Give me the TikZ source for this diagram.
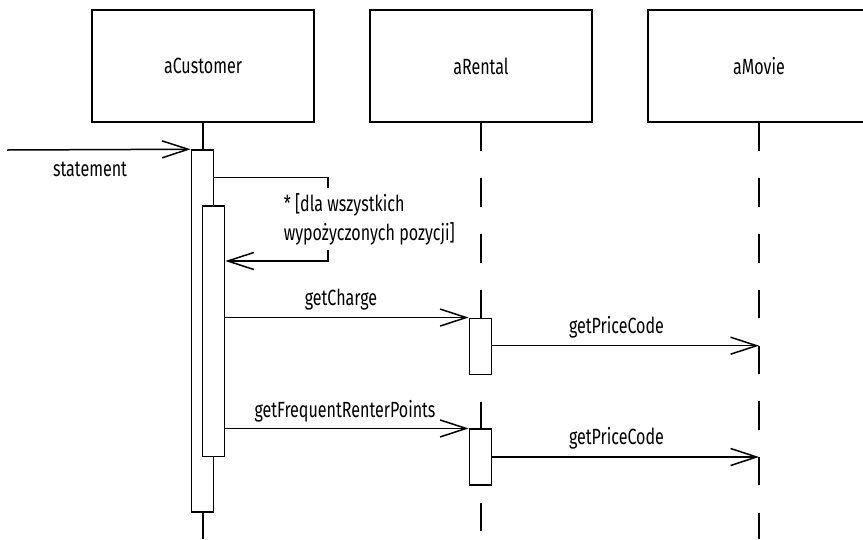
\documentclass[tikz,border=0pt]{standalone}
\usepackage{fontspec}
\setmainfont[FakeStretch=0.73]{Fira Sans}
\usetikzlibrary{arrows.meta}

\begin{document}
\begin{tikzpicture}[x=1pt,y=-1pt,
  line width=1.5pt,
  every node/.style={font=\fontsize{22}{29}\selectfont},
  objbox/.style={draw, rectangle, minimum width=222pt, minimum height=112pt, inner sep=0pt},
  actbar/.style={draw, fill=white, rectangle, minimum width=22pt, inner sep=0pt},
  msg/.style={-{Straight Barb[length=26pt,width=17pt]}},
  lifeline/.style={dash pattern=on 28.5pt off 27.2pt},
  lbl/.style={inner sep=0pt}
]
\useasboundingbox (0,0) rectangle (863,539);
\clip (0,0) rectangle (863,539);

% object boxes
\node[objbox] (cust)  at (203,66) {aCustomer};
\node[objbox] (rent)  at (481,66) {aRental};
\node[objbox] (movie) at (759,66) {aMovie};

% bottom ends of the lifelines
\coordinate (custend)  at (203,539);
\coordinate (rentend)  at (481,539);
\coordinate (movieend) at (759,539);

% activation bars
\node[actbar, minimum height=362pt] (cout) at (202.3,331) {};
\node[actbar, minimum height=250.7pt] (cin) at (213.6,331.35) {};
\node[actbar, minimum height=56pt] (r1) at (480.3,346.3) {};
\node[actbar, minimum height=56pt] (r2) at (480.3,457.2) {};

% lifelines
\draw (cust.south) -- (cout.north -| cust.south);
\draw (cout.south -| cust.south) -- (custend);
\draw[lifeline] (rent.south) -- (r1.north -| rent.south);
\draw[lifeline, dash phase=28.5pt] (r1.south -| rent.south) -- (r2.north -| rent.south);
\draw[lifeline, dash phase=38.7pt] (r2.south -| rent.south) -- (rentend);
\draw[lifeline] (movie.south) -- (movieend);

% redraw bars above the lifelines
\node[actbar, minimum height=362pt] at (cout) {};
\node[actbar, minimum height=250.7pt] at (cin) {};
\node[actbar, minimum height=56pt] at (r1) {};
\node[actbar, minimum height=56pt] at (r2) {};

% incoming call
\coordinate (start) at (7,150);
\draw[msg] (start) -- (cout.north west);
\node[lbl] (lstatement) at (90,169) {statement};

% iteration over rentals
\coordinate (loopcorner) at (328,177.7);
\coordinate (loopback) at (328,261);
\draw[msg] (cout.east |- loopcorner) -- (loopcorner) -- (loopback) -- (cin.east |- loopback);
\node[lbl, fill=white, inner xsep=2pt, inner ysep=5pt, anchor=west, align=left] (lloop) at (281,219) {* [dla wszystkich\\wypożyczonych pozycji]};

% getCharge
\draw[msg] (cin.east |- r1.north) -- (r1.north west);
\node[lbl] (lcharge) at (341,300) {getCharge};
\coordinate (m1) at (759,345.7);
\draw[msg] (r1.east |- m1) -- (m1);
\node[lbl] (lprice1) at (616.5,327) {getPriceCode};

% getFrequentRenterPoints
\draw[msg] (cin.east |- r2.north) -- (r2.north west);
\node[lbl] (lpoints) at (345,411) {getFrequentRenterPoints};
\coordinate (m2) at (759,457);
\draw[msg] (r2.east |- m2) -- (m2);
\node[lbl] (lprice2) at (616.5,438) {getPriceCode};
\end{tikzpicture}
\end{document}
